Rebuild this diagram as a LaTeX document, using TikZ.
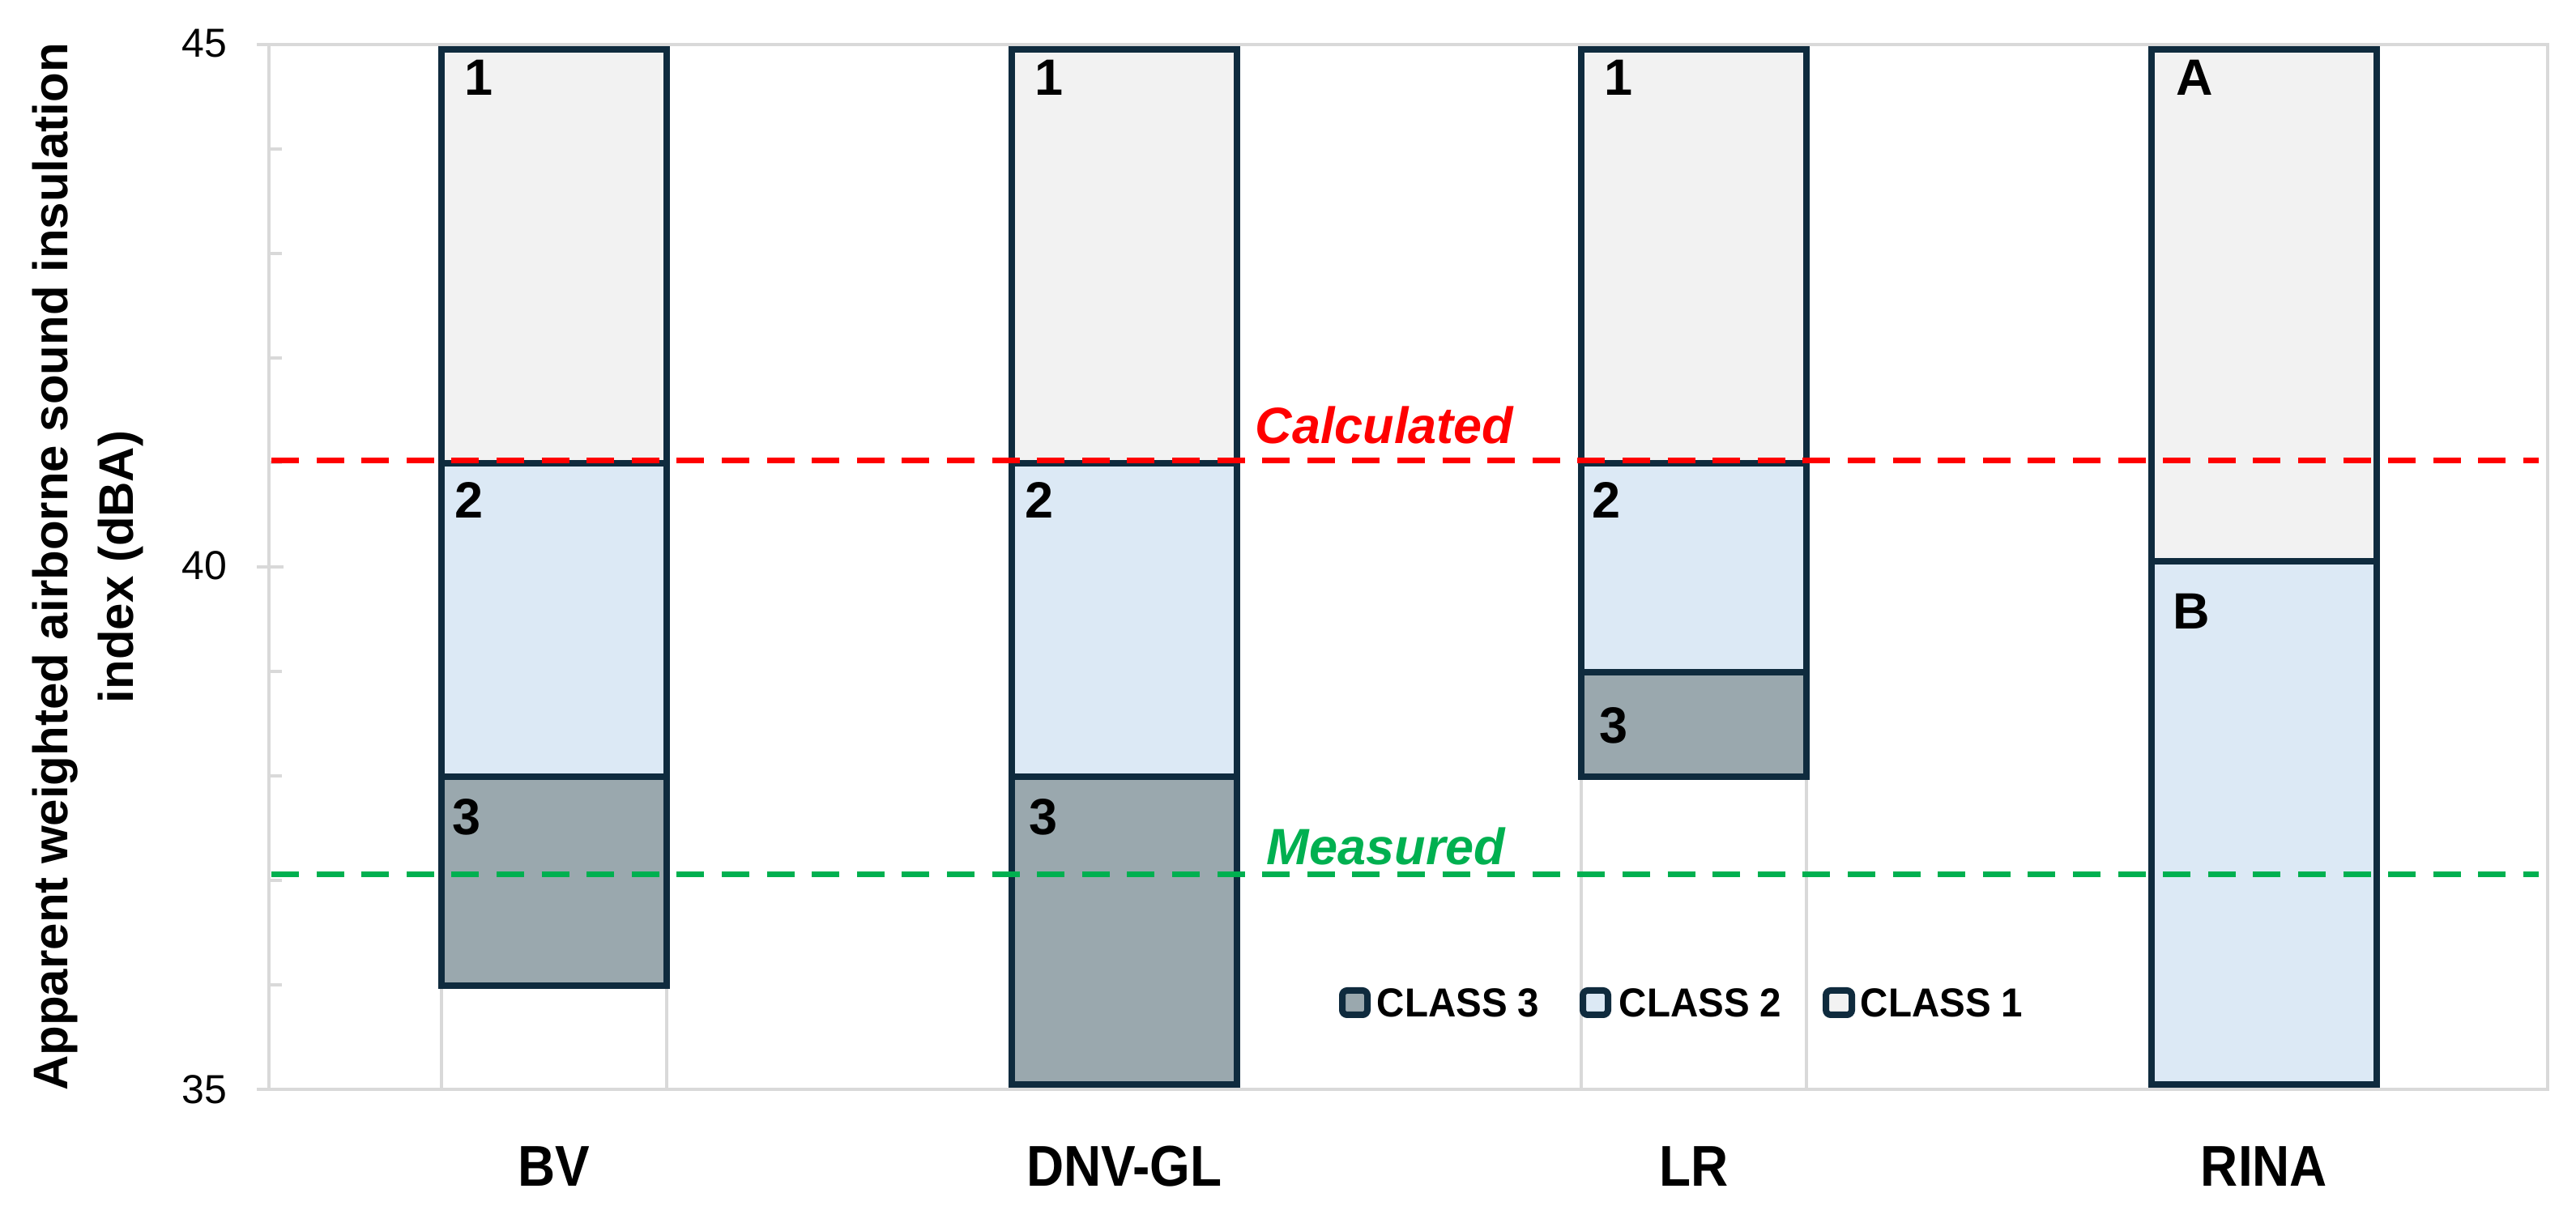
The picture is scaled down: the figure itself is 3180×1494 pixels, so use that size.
\documentclass[tikz,border=0pt]{standalone}
\usepackage{fontspec}
\setmainfont{Liberation Sans}
\newfontfamily\condfont{Liberation Sans}[FakeStretch=0.9]
\newfontfamily\legfont{Liberation Sans}[FakeStretch=0.95]
\definecolor{barline}{HTML}{0F2B3E}
\definecolor{cthree}{HTML}{9AA8AE}
\definecolor{ctwo}{HTML}{DCE9F5}
\definecolor{cone}{HTML}{F2F2F2}
\definecolor{gridgray}{HTML}{D9D9D9}
\definecolor{calcred}{HTML}{FF0000}
\definecolor{measgreen}{HTML}{00B050}
\tikzset{
  barseg/.style={draw=barline, line width=1.875pt},
  gridln/.style={draw=gridgray, line width=1.125pt},
  refline/.style={line width=1.75pt, dash pattern=on 8.5pt off 5.4pt},
  seglabel/.style={anchor=base west, inner sep=0pt, font=\fontsize{15.75pt}{18pt}\selectfont\bfseries},
  ticklabel/.style={anchor=east, inner sep=0pt, font=\fontsize{12.5pt}{14pt}\selectfont},
  catlabel/.style={anchor=base, inner sep=0pt, font=\condfont\fontsize{17.75pt}{20pt}\selectfont\bfseries},
  legtext/.style={anchor=base west, inner sep=0pt, font=\legfont\fontsize{12.5pt}{14pt}\selectfont\bfseries},
  swatch/.style={draw=barline, line width=2pt, rounded corners=1.5pt},
  reflabel/.style={anchor=base, inner sep=0pt, font=\fontsize{15.75pt}{18pt}\selectfont\bfseries\itshape},
  axtitle/.style={anchor=base, inner sep=0pt, rotate=90, font=\fontsize{15pt}{18pt}\selectfont\bfseries}
}
\begin{document}
\begin{tikzpicture}[x=0.25pt, y=-0.25pt]
\useasboundingbox (0,0) rectangle (3180,1494);
% plot frame and ticks
\draw[gridln] (317,55) -- (3147,55);
\draw[gridln] (317,1345) -- (3147,1345);
\draw[gridln] (332,55) -- (332,1345);
\draw[gridln] (3145,55) -- (3145,1345);
\draw[gridln] (317,700) -- (350,700);
\foreach \v in {44,43,42,41,39,38,37,36}
  \draw[gridln] (332,{700-129*(\v-40)}) -- (348,{700-129*(\v-40)});
% base outlines under floating bars
\draw[gridln] (545,1217) -- (545,1345);
\draw[gridln] (823,1217) -- (823,1345);
\draw[gridln] (1952,959) -- (1952,1345);
\draw[gridln] (2230,959) -- (2230,1345);
% BV
\draw[barseg, fill=cthree] (545,1217) rectangle (823,959);
\draw[barseg, fill=ctwo] (545,959) rectangle (823,572);
\draw[barseg, fill=cone] (545,572) rectangle (823,61);
% DNV-GL
\draw[barseg, fill=cthree] (1249,1339) rectangle (1527,959);
\draw[barseg, fill=ctwo] (1249,959) rectangle (1527,572);
\draw[barseg, fill=cone] (1249,572) rectangle (1527,61);
% LR
\draw[barseg, fill=cthree] (1952,959) rectangle (2230,830);
\draw[barseg, fill=ctwo] (1952,830) rectangle (2230,572);
\draw[barseg, fill=cone] (1952,572) rectangle (2230,61);
% RINA
\draw[barseg, fill=ctwo] (2656,1339) rectangle (2934,693);
\draw[barseg, fill=cone] (2656,693) rectangle (2934,61);
% segment labels
\node[seglabel] (bv1) at (573,118) {1};
\node[seglabel] (bv2) at (561,640) {2};
\node[seglabel] (bv3) at (558,1031) {3};
\node[seglabel] (dn1) at (1277,118) {1};
\node[seglabel] (dn2) at (1265,640) {2};
\node[seglabel] (dn3) at (1270,1031) {3};
\node[seglabel] (lr1) at (1980,118) {1};
\node[seglabel] (lr2) at (1965,640) {2};
\node[seglabel] (lr3) at (1974,918) {3};
\node[seglabel] (riA) at (2686,118) {A};
\node[seglabel] (riB) at (2682,777) {B};
% reference lines
\draw[refline, calcred] (335,569) -- (3134,569);
\draw[refline, measgreen] (335,1080) -- (3134,1080);
\node[reflabel, text=calcred] (calc) at (1709,548) {Calculated};
\node[reflabel, text=measgreen] (meas) at (1711,1068) {Measured};
% tick labels
\node[ticklabel] (t45) at (281,54) {45};
\node[ticklabel] (t40) at (281,698) {40};
\node[ticklabel] (t35) at (281,1345) {35};
% category labels
\node[catlabel] (cbv) at (684,1465) {BV};
\node[catlabel] (cdn) at (1388,1465) {DNV-GL};
\node[catlabel] (clr) at (2091,1465) {LR};
\node[catlabel] (cri) at (2795,1465) {RINA};
% axis title
\node[axtitle] (yt1) at (83,700) {Apparent weighted airborne sound insulation};
\node[axtitle] (yt2) at (164,700) {index (dBA)};
% legend
\draw[swatch, fill=cthree] (1657,1223) rectangle (1688,1253);
\node[legtext] (lg3) at (1699,1256) {CLASS 3};
\draw[swatch, fill=ctwo] (1954,1223) rectangle (1985,1253);
\node[legtext] (lg2) at (1998,1256) {CLASS 2};
\draw[swatch, fill=cone] (2254,1223) rectangle (2286,1253);
\node[legtext] (lg1) at (2296,1256) {CLASS 1};
\end{tikzpicture}
\end{document}
